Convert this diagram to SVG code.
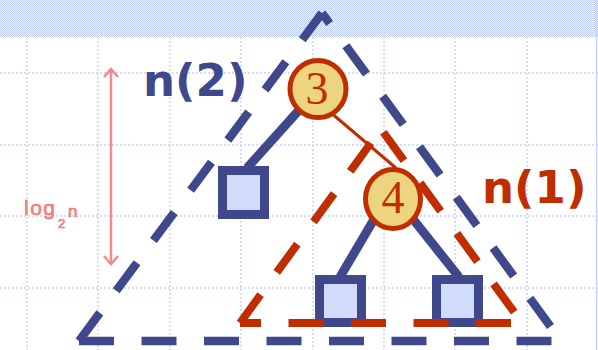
<svg xmlns="http://www.w3.org/2000/svg" width="598" height="350" viewBox="0 0 598 350">
  <defs>
    <pattern id="chk" width="2" height="2" patternUnits="userSpaceOnUse">
      <rect width="2" height="2" fill="#f2f5fe"/>
      <rect width="1" height="1" fill="#bccbf8"/>
      <rect x="1" y="1" width="1" height="1" fill="#bccbf8"/>
    </pattern>
    <marker id="ah" viewBox="-12 -10 14 20" refX="0" refY="0" markerWidth="14" markerHeight="20" markerUnits="userSpaceOnUse" orient="auto-start-reverse" overflow="visible">
      <path d="M-8,-7 L0,0 L-8,7" fill="none" stroke="#f08c8c" stroke-width="2.5"/>
    </marker>
    <style>
      .grid { stroke: #c6d3f8; stroke-width: 1.5; stroke-dasharray: 2 2; fill: none; }
      .btri { stroke: #40488c; stroke-width: 8.5; fill: none; stroke-dasharray: 35 27.5; stroke-linecap: butt; }
      .rtri { stroke: #c02e00; stroke-width: 8; fill: none; stroke-dasharray: 35 27.5; stroke-linecap: butt; }
      .edge { stroke: #40488c; stroke-width: 9; fill: none; }
      .redge { stroke: #c02e00; stroke-width: 3; fill: none; }
      .sq { fill: #d0dcfa; stroke: #40488c; stroke-width: 9; }
      .circ { fill: #ecd57e; stroke: #c02e00; stroke-width: 5; }
      .num { font-family: "Liberation Serif", serif; font-size: 46px; fill: #c02e00; text-anchor: middle; }
      .lbl { font-family: "DejaVu Sans", sans-serif; font-weight: bold; font-size: 45px; }
      .pink { font-family: "Liberation Sans", sans-serif; fill: #ef8080; stroke: #ef8080; stroke-width: 0.7; }
    </style>
  </defs>

  <g id="background">
    <rect width="598" height="350" fill="#ffffff"/>
    <rect width="598" height="37" fill="url(#chk)"/>
    <path class="grid" d="M27,37V350 M98,37V350 M170,37V350 M241,37V350 M313,37V350 M384,37V350 M455,37V350 M527,37V350"/>
    <path class="grid" d="M0,73H598 M0,145H598 M0,216H598 M0,288H598"/>
    <line x1="596.5" y1="0" x2="596.5" y2="350" stroke="#c6d3f8" stroke-width="1.5"/>
  </g>

  <g id="subtree-n2">
    <path class="btri" d="M79,341 L322,13"/>
    <path class="btri" d="M79,341 L561,341"/>
    <path class="btri" d="M322,13 L561,341" stroke-dashoffset="22"/>
  </g>

  <g id="connectors">
    <line class="edge" x1="318" y1="89" x2="247" y2="168"/>
    <line class="redge" x1="330" y1="112" x2="396" y2="168"/>
    <line class="edge" x1="386" y1="199" x2="340" y2="277"/>
    <line class="edge" x1="397" y1="199" x2="459" y2="277"/>
  </g>

  <g id="leaf-left">
    <rect class="sq" x="222.5" y="170.5" width="42" height="44"/>
  </g>
  <g id="leaf-bl">
    <rect class="sq" x="319.5" y="279.5" width="42" height="43"/>
  </g>
  <g id="leaf-br">
    <rect class="sq" x="436.5" y="279.5" width="42" height="43"/>
  </g>

  <g id="subtree-n1">
    <path class="rtri" d="M240,323 L381,129"/>
    <path class="rtri" d="M381,129 L522,323" stroke-dashoffset="58.5"/>
    <path class="rtri" d="M240,323 L522,323" stroke-dashoffset="14"/>
  </g>

  <g id="node-3">
    <ellipse class="circ" cx="318" cy="89" rx="28" ry="28.5"/>
    <text class="num" x="317" y="104">3</text>
  </g>
  <g id="node-4">
    <ellipse class="circ" cx="393" cy="199" rx="27.5" ry="29.5"/>
    <text class="num" x="393" y="213">4</text>
  </g>

  <g id="label-n2">
    <text class="lbl" x="143" y="96" fill="#40488c">n(2)</text>
  </g>
  <g id="label-n1">
    <text class="lbl" x="482" y="203" fill="#c02e00">n(1)</text>
  </g>

  <g id="height-arrow">
    <line x1="111" y1="69" x2="111" y2="264" stroke="#f08c8c" stroke-width="2.5" marker-start="url(#ah)" marker-end="url(#ah)"/>
    <text class="pink" x="24" y="215" font-size="21" letter-spacing="1.5">log<tspan x="58" y="228" font-size="13" letter-spacing="0">2</tspan><tspan x="68" y="217" font-size="17" letter-spacing="0">n</tspan></text>
  </g>
</svg>
